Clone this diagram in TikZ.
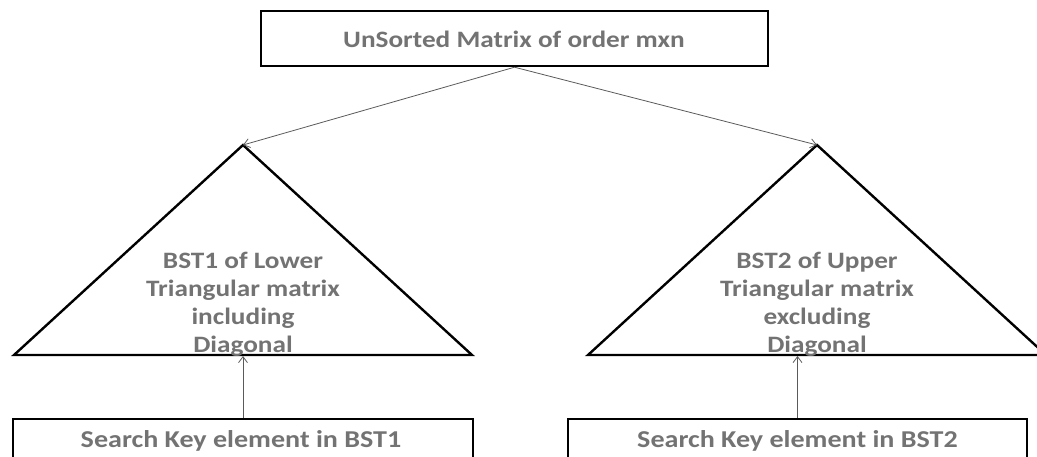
\documentclass[tikz,border=0pt]{standalone}
\usepackage{fontspec}
\setmainfont{Carlito}
\newfontfamily\widefont[FakeStretch=1.16]{Carlito}
\usetikzlibrary{arrows.meta}
\definecolor{txt}{RGB}{115,115,115}
\definecolor{arr}{RGB}{90,90,90}
\tikzset{
  boxnode/.style={draw=black, line width=2.4pt, inner sep=0pt},
  toptext/.style={font=\widefont\fontsize{23.5}{27}\selectfont\bfseries, text=txt, inner sep=0pt},
  bottext/.style={font=\widefont\fontsize{24.2}{28}\selectfont\bfseries, text=txt, inner sep=0pt},
  tritext/.style={align=center, font=\widefont\fontsize{23.5}{28}\selectfont\bfseries, text=txt, inner sep=0pt},
  tri/.style={draw=black, line width=2.4pt, line join=miter},
  conn/.style={draw=arr, line width=0.8pt, -{Straight Barb[length=6pt,width=9pt]}}
}
\begin{document}
\begin{tikzpicture}[x=1pt,y=-1pt]
\useasboundingbox (0,0) rectangle (1037,456);
\begin{scope}
\clip (0,0) rectangle (1037,456);
\node[boxnode, minimum width=507pt, minimum height=55pt] (top) at (514.5,38.5) {};
\node[toptext, anchor=base] (toptxt) at (514,47) {UnSorted Matrix of order mxn};
% left triangle
\coordinate (la) at (243,145);
\coordinate (ll) at (14,355);
\coordinate (lr) at (472,355);
\draw[tri] (la) -- (lr) -- (ll) -- cycle;
% right triangle
\coordinate (ra) at (817,145);
\coordinate (rl) at (588,355);
\coordinate (rr) at (1046,355);
\draw[tri] (ra) -- (rr) -- (rl) -- cycle;
\node[tritext, anchor=base] (lt) at (243,352) {BST1 of Lower\\Triangular matrix\\including\\Diagonal};
\node[tritext, anchor=base] (rt) at (817,352) {BST2 of Upper\\Triangular matrix\\excluding\\Diagonal};
% bottom boxes
\node[boxnode, minimum width=460pt, minimum height=60pt, anchor=north] (lb) at (243,418) {};
\node[boxnode, minimum width=459pt, minimum height=60pt, anchor=north] (rb) at (797.5,418) {};
\node[bottext, anchor=base] (lbt) at (241,447) {Search Key element in BST1};
\node[bottext, anchor=base] (rbt) at (797.5,447) {Search Key element in BST2};
% connectors
\coordinate (lbase) at (243,356);
\coordinate (rbase) at (797.5,356);
\draw[conn] (top.south) -- (la);
\draw[conn] (top.south) -- (ra);
\draw[conn] (lb.north) -- (lbase);
\draw[conn] (rb.north) -- (rbase);
\end{scope}
\end{tikzpicture}
\end{document}
